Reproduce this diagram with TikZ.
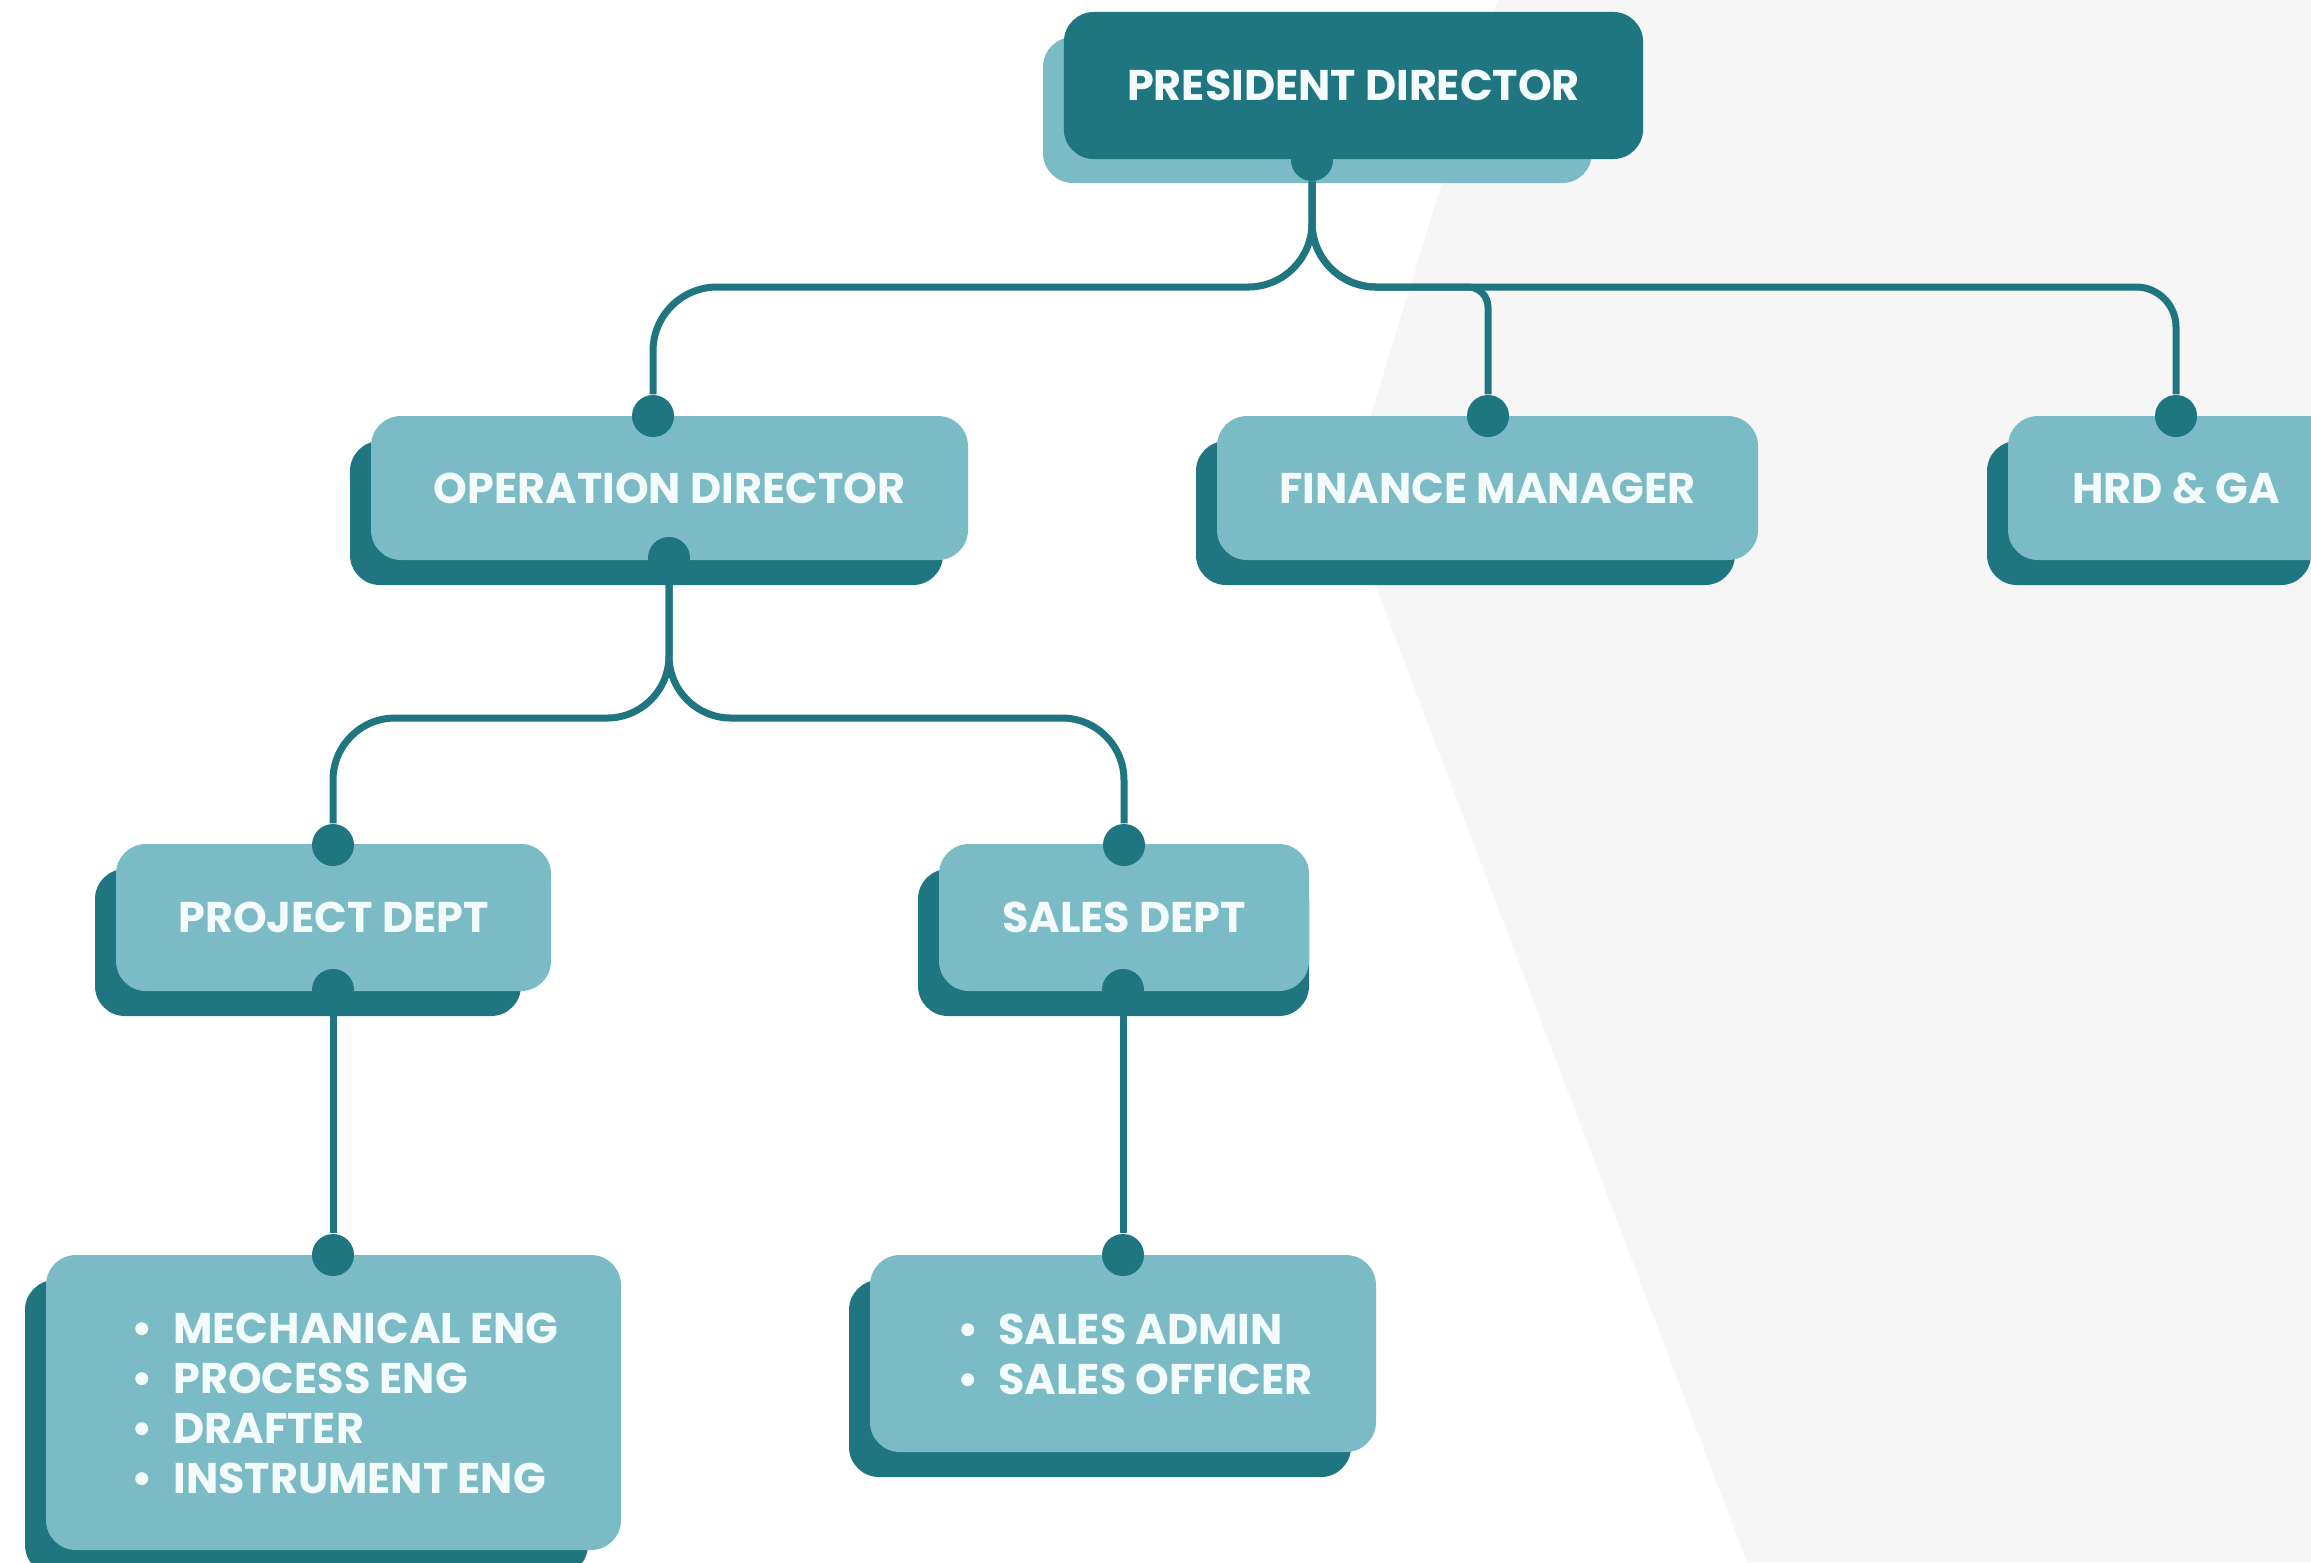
\documentclass[tikz,border=0pt]{standalone}
\usepackage{fontspec}
\setmainfont{Poppins}
\usetikzlibrary{calc}
\definecolor{tealdark}{HTML}{1F7580}
\definecolor{teallight}{HTML}{7BBBC5}
\definecolor{bggray}{HTML}{F6F6F6}
\definecolor{offwhite}{HTML}{F4FBFC}
\tikzset{
  shadowbox/.style={rounded corners=0.3cm},
  mainbox/.style={rounded corners=0.3cm, inner sep=0pt, text=offwhite,
    font=\fontsize{12.2}{14.2}\selectfont\bfseries},
  listtext/.style={inner sep=0pt, align=left, text=offwhite,
    font=\fontsize{12.2}{14.2}\selectfont\bfseries},
  knob/.style={circle, fill=tealdark, inner sep=0pt, minimum size=0.42cm},
  wire/.style={draw=tealdark, line width=0.07cm},
}
\begin{document}
\begin{tikzpicture}[x=0.01cm, y=-0.01cm]
    \useasboundingbox (0,0) rectangle (2311,1562);
    \clip (0,0) rectangle (2311,1562);
    \fill[white] (0,0) rectangle (2311,1562);
    % fundo cinza na direita
    \fill[bggray] (1498,0) -- (1344,503) -- (1747,1562) -- (2311,1562) -- (2311,0) -- cycle;

    % caixa do topo
    \fill[teallight, shadowbox] (1043,37) rectangle (1592,183);
    \node[mainbox, fill=tealdark, minimum width=5.79cm, minimum height=1.47cm] (pres) at (1353.5,85.5) {PRESIDENT DIRECTOR};

    % Caixas: nome/x1/y1/x2/y2/sombra/texto
    \foreach \nm/\xa/\ya/\xb/\yb/\sr/\txt in {op/371/416/968/560/943/{OPERATION DIRECTOR},
        fin/1217/416/1758/560/1735/{FINANCE MANAGER}, hrd/2008/416/2344/560/2311/{HRD \& GA},
        proj/116/844/551/991/521/{PROJECT DEPT}, sales/939/844/1309/991/1309/{SALES DEPT},
        projlist/46/1255/621/1550/588/{}, saleslist/870/1255/1376/1452/1351/{}} {
        \fill[tealdark, shadowbox] (\xa-21,\ya+25) rectangle (\sr,\yb+25);
        \node[mainbox, fill=teallight, minimum width={(\xb-\xa)*0.01cm}, minimum height={(\yb-\ya)*0.01cm}] (\nm) at ({(\xa+\xb)/2},{(\ya+\yb)/2}) {\txt};
    }

    % listas
    \node[listtext] (projitems) at (345,1403) {\makebox[0.42cm][l]{\textbullet}MECHANICAL ENG\\
        \makebox[0.42cm][l]{\textbullet}PROCESS ENG\\ \makebox[0.42cm][l]{\textbullet}DRAFTER\\
        \makebox[0.42cm][l]{\textbullet}INSTRUMENT ENG};
    \node[listtext] (salesitems) at (1135,1354) {\makebox[0.41cm][l]{\textbullet}SALES ADMIN\\
        \makebox[0.41cm][l]{\textbullet}SALES OFFICER};

    % pontos de ligacao
    \node[knob] (pdot) at (1312,160) {};
    \node[knob] (optop) at (653,416) {};
    \node[knob] (opbot) at (669,558) {};
    \node[knob] (fintop) at (1488,416) {};
    \node[knob] (hrdtop) at (2176,416) {};
    \node[knob] (projtop) at (333,845) {};
    \node[knob] (projbot) at (333,990) {};
    \node[knob] (salestop) at (1124,845) {};
    \node[knob] (salesbot) at (1123,990) {};
    \node[knob] (pltop) at (333,1255) {};
    \node[knob] (sltop) at (1123,1255) {};

    % linhas
    \coordinate (bus) at (0,287);
    \coordinate (bustwo) at (0,718);
    \draw[wire, rounded corners=0.64cm] (pdot) |- (bus -| optop) -- (optop);
    \draw[wire, rounded corners=0.64cm] (pdot) -- (pdot |- bus) [rounded corners=0.4cm] -- (bus -| hrdtop) -- (hrdtop);
    \draw[wire, rounded corners=0.64cm] (pdot) -- (pdot |- bus) [rounded corners=0.2cm] -- (bus -| fintop) -- (fintop);
    \draw[wire, rounded corners=0.62cm] (opbot) |- (bustwo -| projtop) -- (projtop);
    \draw[wire, rounded corners=0.62cm] (opbot) |- (bustwo -| salestop) -- (salestop);
    \draw[wire] (projbot) -- (pltop);
    \draw[wire] (salesbot) -- (sltop);
\end{tikzpicture}
\end{document}
